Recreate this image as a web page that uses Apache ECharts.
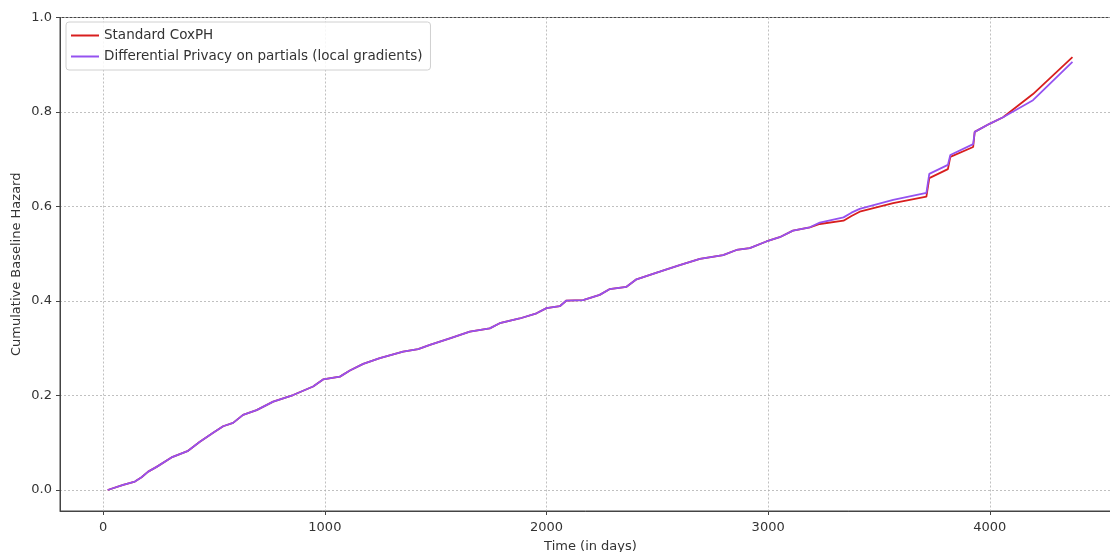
<!DOCTYPE html>
<html>
<head>
<meta charset="utf-8">
<script src="https://cdn.jsdelivr.net/npm/echarts@6/dist/echarts.min.js"></script>
<style>
  html, body { margin: 0; padding: 0; background: #fff; }
  #chart { width: 1110px; height: 552px; }
</style>
</head>
<body>
<div id="chart"></div>
<script>
// time points (days)
const days = [20, 90, 143, 173, 203, 241, 308, 383, 436, 496, 541, 586, 631, 692, 767, 857, 947, 992,
  1068, 1113, 1173, 1248, 1353, 1421, 1474, 1564, 1654, 1744, 1789, 1879, 1955, 2000, 2060, 2090,
  2165, 2240, 2284, 2361, 2406, 2511, 2601, 2692, 2797, 2857, 2917, 2992, 3052, 3112, 3188, 3233,
  3340, 3376, 3413, 3564, 3714, 3727, 3811, 3822, 3925, 3932, 3999, 4060, 4195, 4373]

const coxph = [0, 0.011, 0.018, 0.027, 0.039, 0.049, 0.069, 0.083, 0.102, 0.121, 0.135, 0.142, 0.159, 0.169, 0.187, 0.201, 0.219, 0.234,
  0.240, 0.253, 0.267, 0.279, 0.293, 0.298, 0.307, 0.321, 0.335, 0.342, 0.353, 0.363, 0.374, 0.385, 0.389, 0.401,
  0.402, 0.413, 0.425, 0.430, 0.446, 0.462, 0.476, 0.489, 0.497, 0.508, 0.512, 0.526, 0.535, 0.549, 0.556, 0.563,
  0.570, 0.580, 0.589, 0.607, 0.621, 0.660, 0.679, 0.705, 0.726, 0.758, 0.775, 0.789, 0.838, 0.916]

const dpPartials = [0, 0.011, 0.018, 0.027, 0.039, 0.049, 0.069, 0.083, 0.102, 0.121, 0.135, 0.142, 0.159, 0.169, 0.187, 0.201, 0.219, 0.234,
  0.240, 0.253, 0.267, 0.279, 0.293, 0.298, 0.307, 0.321, 0.335, 0.342, 0.353, 0.363, 0.374, 0.385, 0.389, 0.401,
  0.402, 0.413, 0.425, 0.430, 0.446, 0.462, 0.476, 0.489, 0.497, 0.508, 0.512, 0.526, 0.535, 0.549, 0.556, 0.566,
  0.577, 0.587, 0.595, 0.614, 0.629, 0.669, 0.688, 0.709, 0.732, 0.758, 0.775, 0.789, 0.825, 0.906]

const xTicks = [0, 1000, 2000, 3000, 4000]
const yTicks = [0, 0.2, 0.4, 0.6, 0.8, 1.0]

const font = 'DejaVu Sans'
const gridLine = { show: true, lineStyle: { color: '#b0b0b0', type: [2, 2], width: 0.8 } }

const chart = echarts.init(document.getElementById('chart'))

chart.setOption({
  animation: false,
  textStyle: { fontFamily: font },
  grid: {
    left: 60,
    top: 17.5,
    width: 1061,
    height: 493.5,
    containLabel: false,
    outerBoundsMode: 'none',
    show: true,
    borderColor: '#444',
    borderWidth: 1
  },
  legend: {
    orient: 'vertical',
    left: 66,
    top: 22,
    icon: 'rect',
    itemWidth: 28,
    itemHeight: 2,
    itemGap: 6,
    padding: [6, 8, 6, 5],
    borderColor: '#d0d0d0',
    borderWidth: 1,
    borderRadius: 3,
    backgroundColor: 'rgba(255,255,255,0.85)',
    textStyle: { fontFamily: font, fontSize: 13.5, color: '#333', lineHeight: 15 },
    data: ['Standard CoxPH', 'Differential Privacy on partials (local gradients)']
  },
  xAxis: {
    type: 'value',
    min: -195,
    max: 4592,
    name: 'Time (in days)',
    nameLocation: 'middle',
    nameGap: 29,
    nameMoveOverlap: false,
    nameTextStyle: { fontFamily: font, fontSize: 13, color: '#333' },
    axisLine: { show: true, onZero: false, lineStyle: { color: '#444' } },
    axisTick: { show: true, length: 4, customValues: xTicks, lineStyle: { color: '#444' } },
    axisLabel: {
      customValues: xTicks,
      margin: 10,
      fontFamily: font,
      fontSize: 13,
      color: '#333',
      formatter: v => String(v)
    },
    splitLine: gridLine
  },
  yAxis: {
    type: 'value',
    min: -0.0444,
    max: 1.0,
    name: 'Cumulative Baseline Hazard',
    nameLocation: 'middle',
    nameGap: 37,
    nameMoveOverlap: false,
    nameTextStyle: { fontFamily: font, fontSize: 13, color: '#333' },
    axisLine: { show: true, onZero: false, lineStyle: { color: '#444' } },
    axisTick: { show: true, length: 4, customValues: yTicks, lineStyle: { color: '#444' } },
    axisLabel: {
      customValues: yTicks,
      margin: 8,
      fontFamily: font,
      fontSize: 13,
      color: '#333',
      formatter: v => v.toFixed(1)
    },
    splitLine: gridLine
  },
  series: [{
    name: 'Standard CoxPH',
    type: 'line',
    symbol: 'none',
    color: '#d81e1e',
    lineStyle: { width: 1.8, color: '#d81e1e' },
    data: days.map((d, i) => [d, coxph[i]])
  }, {
    name: 'Differential Privacy on partials (local gradients)',
    type: 'line',
    symbol: 'none',
    color: '#9552f0',
    lineStyle: { width: 1.8, color: '#9552f0' },
    data: days.map((d, i) => [d, dpPartials[i]])
  }]
})
</script>
</body>
</html>
